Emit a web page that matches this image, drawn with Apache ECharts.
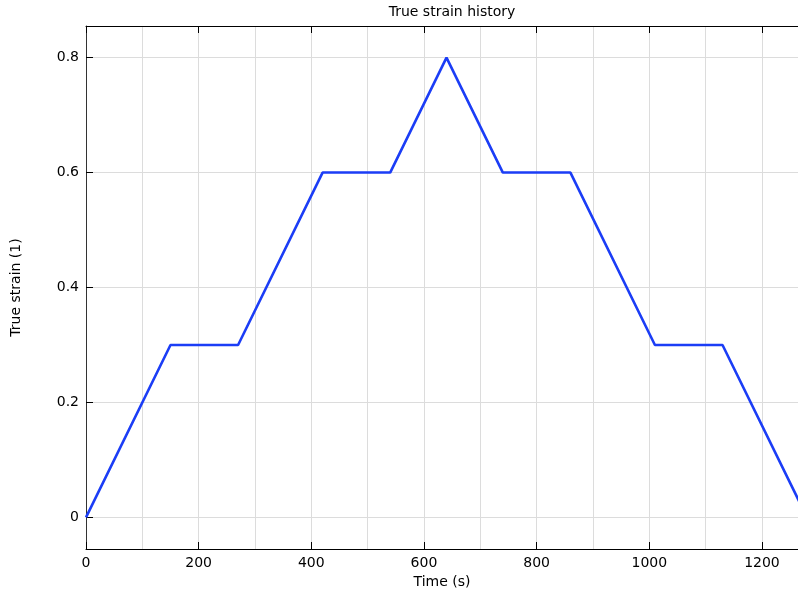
<!DOCTYPE html>
<html>
<head>
<meta charset="utf-8">
<script src="https://cdn.jsdelivr.net/npm/echarts@6/dist/echarts.min.js"></script>
<style>
html,body{margin:0;padding:0;background:#fff;}
#chart{width:798px;height:591px;}
</style>
</head>
<body>
<div id="chart"></div>
<script>
var times = [0, 150, 270, 420, 540, 640, 740, 860, 1010, 1130, 1280];
var strains = [0, 0.3, 0.3, 0.6, 0.6, 0.8, 0.6, 0.6, 0.3, 0.3, 0];
var xMin = 0, xMax = 1264;
var yMin = -0.055, yMax = 0.855;
var titleText = 'True strain history';
var xName = 'Time (s)';
var yName = 'True strain (1)';

var data = times.map(function (t, i) { return [t, strains[i]]; });
var font = 'DejaVu Sans';
var fs = 14;
var chart = echarts.init(document.getElementById('chart'), null, {renderer: 'canvas'});

function isMult(v, step) {
  var r = v / step;
  return Math.abs(r - Math.round(r)) < 1e-6;
}

chart.setOption({
  animation: false,
  backgroundColor: '#fff',
  title: {
    text: titleText, left: 447, top: 0, textAlign: 'center',
    textStyle: {fontFamily: font, fontSize: fs, fontWeight: 'normal', color: '#000'}
  },
  grid: {left: 86, right: 0, top: 26, bottom: 42, containLabel: false, outerBoundsMode: 'none'},
  xAxis: [
    {
      type: 'value', min: xMin, max: xMax, splitNumber: 12, position: 'bottom',
      name: xName, nameLocation: 'middle', nameGap: 22,
      nameTextStyle: {fontFamily: font, fontSize: fs, color: '#000'},
      axisLine: {show: true, onZero: false, lineStyle: {color: '#000', width: 1}},
      axisTick: {show: false},
      axisLabel: {
        fontFamily: font, fontSize: fs, color: '#000', margin: 7,
        showMaxLabel: false,
        formatter: function (v) { return (isMult(v, 200) && v <= 1200) ? String(v) : ''; }
      },
      splitLine: {show: true, lineStyle: {color: '#dcdcdc', width: 1}}
    },
    {
      type: 'value', min: xMin, max: xMax, splitNumber: 6, position: 'bottom',
      axisLine: {show: false, onZero: false},
      axisTick: {show: true, inside: true, length: 7, lineStyle: {color: '#000', width: 1}},
      axisLabel: {show: false},
      splitLine: {show: false}
    },
    {
      type: 'value', min: xMin, max: xMax, splitNumber: 6, position: 'top',
      axisLine: {show: true, onZero: false, lineStyle: {color: '#000', width: 1}},
      axisTick: {show: true, inside: true, length: 7, lineStyle: {color: '#000', width: 1}},
      axisLabel: {show: false},
      splitLine: {show: false}
    }
  ],
  yAxis: [
    {
      type: 'value', min: yMin, max: yMax, splitNumber: 5, position: 'left',
      name: yName, nameLocation: 'middle', nameGap: 63, nameRotate: 90,
      nameTextStyle: {fontFamily: font, fontSize: fs, color: '#000'},
      axisLine: {show: true, onZero: false, lineStyle: {color: '#333', width: 1}},
      axisTick: {show: true, inside: true, length: 7, lineStyle: {color: '#000', width: 1}},
      axisLabel: {
        fontFamily: font, fontSize: fs, color: '#000', margin: 7,
        showMinLabel: false, showMaxLabel: false,
        formatter: function (v) {
          if (!isMult(v, 0.2)) return '';
          var r = Math.round(v * 10) / 10;
          return r === 0 ? '0' : String(r);
        }
      },
      splitLine: {show: true, lineStyle: {color: '#dcdcdc', width: 1}}
    }
  ],
  series: [{
    type: 'line', data: data, xAxisIndex: 0, yAxisIndex: 0,
    showSymbol: false, symbol: 'none', clip: true,
    lineStyle: {color: '#1b3df6', width: 2.6},
    itemStyle: {color: '#1b3df6'}
  }]
});
</script>
</body>
</html>
